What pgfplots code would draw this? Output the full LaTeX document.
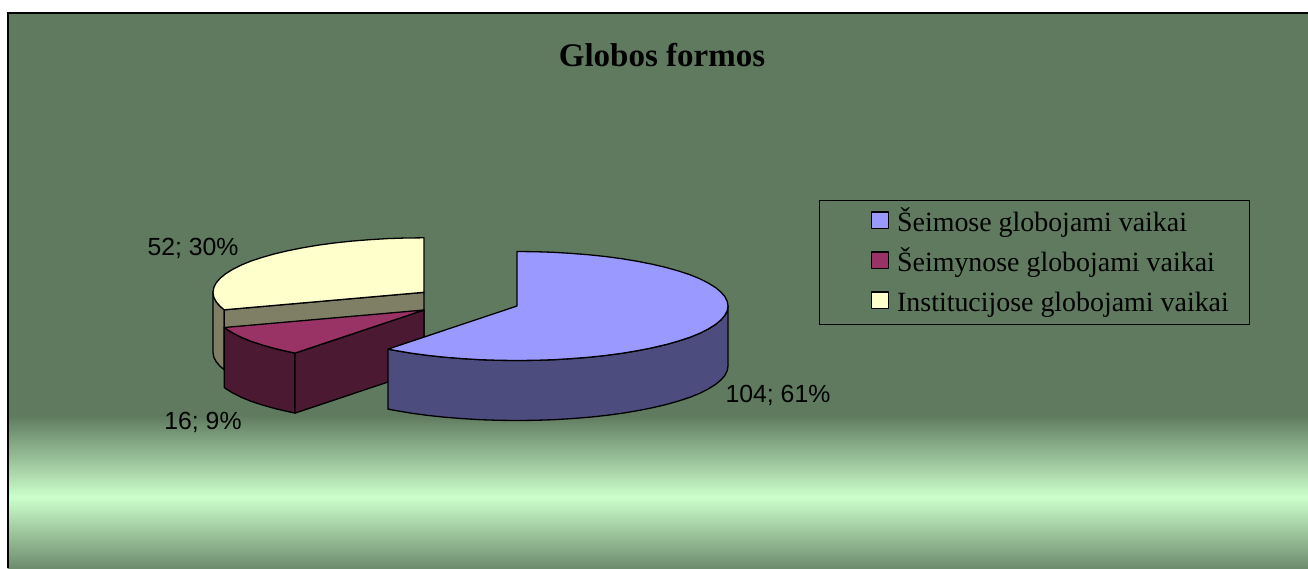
\documentclass[border=0pt]{standalone}
\usepackage{fontspec}
\setmainfont{Liberation Serif}
\newfontfamily\arialf{Liberation Sans}
\usepackage{pgfplots}
\pgfplotsset{compat=1.18}
\definecolor{bgdark}{HTML}{5F7A5F}
\definecolor{bglight}{HTML}{CCFFCC}
\definecolor{bgend}{HTML}{6E8C6E}
\definecolor{bluetop}{HTML}{9999FF}
\definecolor{blueside}{HTML}{4C4C7F}
\definecolor{martop}{HTML}{993366}
\definecolor{marside}{HTML}{4C1933}
\definecolor{yeltop}{HTML}{FFFFCC}
\definecolor{yelside}{HTML}{7F7F66}
\begin{document}
\begin{tikzpicture}[x=1pt,y=1pt]
\begin{axis}[
  width=1308pt, height=568pt, scale only axis,
  xmin=0, xmax=1308, ymin=0, ymax=568, y dir=reverse,
  hide axis, clip=true,
  reverse legend,
  legend cell align=left,
  legend style={
    at={(819/1308,1-200/568)}, anchor=north west,
    draw=black, line width=1.3pt, fill=none,
    font=\fontsize{27.9}{30}\selectfont,
    inner xsep=19pt, inner ysep=7pt,
    row sep=10pt,
    nodes={text height=21.5pt, text depth=4.5pt},
  },
  legend image code/.code={
    \path[draw=none,fill=none] (-35.5pt,0pt) -- (0pt,0pt);
    \draw[#1, line width=1.3pt] (-3pt,-6pt) rectangle (14pt,10.6pt);
    \path[draw=none,fill=none] (21pt,0pt);
  },
  every axis plot/.append style={draw=black, line width=1.3pt, line join=round},
]
\path (axis cs:0,0) rectangle (axis cs:1308,568);
\path[fill=bgdark] (axis cs:7.5,13) rectangle (axis cs:1308,416);
\path[top color=bgdark, bottom color=bglight] (axis cs:7.5,415) rectangle (axis cs:1308,497);
\path[top color=bglight, bottom color=bgend] (axis cs:7.5,497) rectangle (axis cs:1308,568);
\draw[black, line width=2pt] (axis cs:7.5,568) -- (axis cs:7.5,13) -- (axis cs:1308,13);

% Institucijose globojami vaikai: 52; 30%
\addplot[fill=yelside, forget plot] coordinates {(213,292.3) (213.8,297.1) (216.2,301.8) (220.2,306.4) (224.3,309.8) (224.3,369.8) (220.2,366.4) (216.2,361.8) (213.8,357.1) (213,352.3)} -- cycle;
\addplot[fill=yelside, forget plot] coordinates {(424,292.3) (224.3,309.8) (224.3,369.8) (424,352.3)} -- cycle;
\addplot[fill=yeltop] coordinates {(424,292.3) (424,237.8) (405.6,238) (387.4,238.6) (369.4,239.7) (351.8,241.1) (334.8,242.9) (318.5,245.1) (303,247.7) (288.4,250.6) (274.8,253.8) (262.4,257.3) (251.1,261) (241.3,265) (232.8,269.3) (225.7,273.7) (220.2,278.2) (216.2,282.8) (213.8,287.5) (213,292.3) (213.8,297.1) (216.2,301.8) (220.2,306.4) (224.3,309.8)} -- cycle;
\addlegendentry{Institucijose globojami vaikai}

% Seimynose globojami vaikai: 16; 9%
\addplot[fill=marside, forget plot] coordinates {(295,353.1) (288.4,351.7) (274.8,348.5) (262.4,345) (251.1,341.3) (241.3,337.3) (232.8,333) (225.7,328.6) (224.3,327.5) (224.3,387.5) (225.7,388.6) (232.8,393) (241.3,397.3) (251.1,401.3) (262.4,405) (274.8,408.5) (288.4,411.7) (295,413.1)} -- cycle;
\addplot[fill=marside, forget plot] coordinates {(424,310) (295,353.1) (295,413.1) (424,370)} -- cycle;
\addplot[fill=martop] coordinates {(424,310) (295,353.1) (288.4,351.7) (274.8,348.5) (262.4,345) (251.1,341.3) (241.3,337.3) (232.8,333) (225.7,328.6) (224.3,327.5)} -- cycle;
\addlegendentry{Šeimynose globojami vaikai}

% Seimose globojami vaikai: 104; 61%
\addplot[fill=blueside, forget plot] coordinates {(728,306) (727.2,310.8) (724.8,315.5) (720.8,320.1) (715.3,324.6) (708.2,329) (699.7,333.3) (689.9,337.3) (678.6,341) (666.2,344.5) (652.6,347.7) (638,350.6) (622.5,353.2) (606.2,355.4) (589.2,357.2) (571.6,358.6) (553.6,359.7) (535.4,360.3) (517,360.5) (498.6,360.3) (480.4,359.7) (462.4,358.6) (444.8,357.2) (427.8,355.4) (411.5,353.2) (396,350.6) (388,349.1)
 (388,409.1) (396,410.6) (411.5,413.2) (427.8,415.4) (444.8,417.2) (462.4,418.6) (480.4,419.7) (498.6,420.3) (517,420.5) (535.4,420.3) (553.6,419.7) (571.6,418.6) (589.2,417.2) (606.2,415.4) (622.5,413.2) (638,410.6) (652.6,407.7) (666.2,404.5) (678.6,401) (689.9,397.3) (699.7,393.3) (708.2,389) (715.3,384.6) (720.8,380.1) (724.8,375.5) (727.2,370.8) (728,366)} -- cycle;
\addplot[fill=bluetop] coordinates {(517,306) (517,251.5) (535.4,251.7) (553.6,252.3) (571.6,253.4) (589.2,254.8) (606.2,256.6) (622.5,258.8) (638,261.4) (652.6,264.3) (666.2,267.5) (678.6,271) (689.9,274.7) (699.7,278.7) (708.2,283) (715.3,287.4) (720.8,291.9) (724.8,296.5) (727.2,301.2) (728,306) (727.2,310.8) (724.8,315.5) (720.8,320.1) (715.3,324.6) (708.2,329) (699.7,333.3) (689.9,337.3) (678.6,341) (666.2,344.5) (652.6,347.7) (638,350.6) (622.5,353.2) (606.2,355.4) (589.2,357.2) (571.6,358.6) (553.6,359.7) (535.4,360.3) (517,360.5) (498.6,360.3) (480.4,359.7) (462.4,358.6) (444.8,357.2) (427.8,355.4) (411.5,353.2) (396,350.6) (388,349.1)} -- cycle;
\addlegendentry{Šeimose globojami vaikai}

\node[font=\fontsize{33}{36}\selectfont\bfseries, text=black] at (axis cs:662,55) {Globos formos};
\node[font=\arialf\fontsize{24.8}{28}\selectfont] at (axis cs:193,248.5) {52; 30\%};
\node[font=\arialf\fontsize{24.8}{28}\selectfont] at (axis cs:203,422) {16; 9\%};
\node[font=\arialf\fontsize{24.8}{28}\selectfont] at (axis cs:778,395) {104; 61\%};
\end{axis}
\end{tikzpicture}
\end{document}
